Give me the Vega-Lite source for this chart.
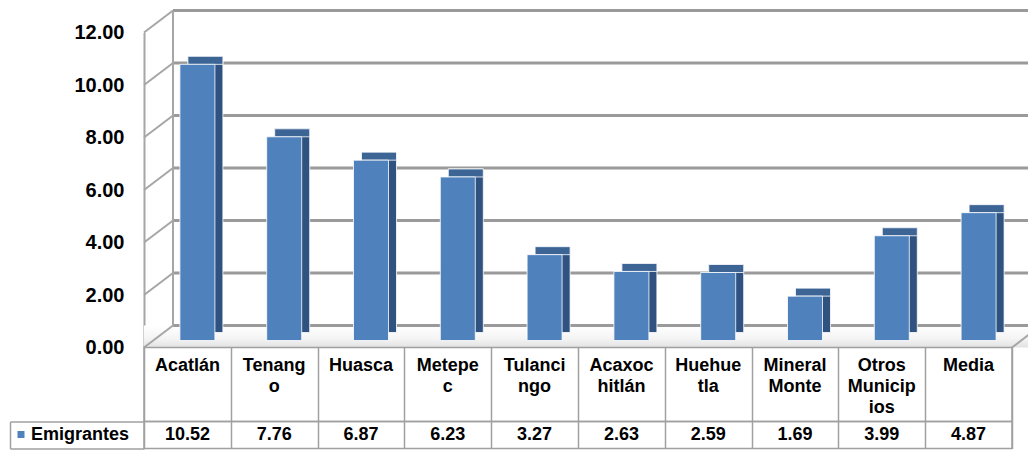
{
  "$schema": "https://vega.github.io/schema/vega-lite/v6.json",
  "padding": {"left": 8, "top": 8.5, "right": 0, "bottom": 0},
  "bounds": "flush",
  "spacing": 0,
  "config": {
    "font": "Liberation Sans",
    "view": {"stroke": null},
    "axis": {"labelFont": "Liberation Sans"},
    "legend": {"labelFont": "Liberation Sans"}
  },
  "datasets": {
    "d": [
      {"cat": "Acatlán", "label": "Acatlán", "v": 10.52, "serie": "Emigrantes"},
      {"cat": "Tenango", "label": "Tenang\no", "v": 7.76, "serie": "Emigrantes"},
      {"cat": "Huasca", "label": "Huasca", "v": 6.87, "serie": "Emigrantes"},
      {"cat": "Metepec", "label": "Metepe\nc", "v": 6.23, "serie": "Emigrantes"},
      {"cat": "Tulancingo", "label": "Tulanci\nngo", "v": 3.27, "serie": "Emigrantes"},
      {"cat": "Acaxochitlán", "label": "Acaxoc\nhitlán", "v": 2.63, "serie": "Emigrantes"},
      {"cat": "Huehuetla", "label": "Huehue\ntla", "v": 2.59, "serie": "Emigrantes"},
      {"cat": "Mineral Monte", "label": "Mineral\nMonte", "v": 1.69, "serie": "Emigrantes"},
      {"cat": "Otros Municipios", "label": "Otros\nMunicip\nios", "v": 3.99, "serie": "Emigrantes"},
      {"cat": "Media", "label": "Media", "v": 4.87, "serie": "Emigrantes"}
    ],
    "levels": [{"lv": 0}, {"lv": 2}, {"lv": 4}, {"lv": 6}, {"lv": 8}, {"lv": 10}, {"lv": 12}],
    "floorlv": [{"lv": 0}]
  },
  "vconcat": [
    {
      "width": 868,
      "height": 315,
      "resolve": {"scale": {"x": "independent"}},
      "layer": [
        {
          "data": {"name": "floorlv"},
          "mark": {
            "type": "rect",
            "y2Offset": -22,
            "x2Offset": 18,
            "color": {"gradient": "linear", "x1": 0, "y1": 0, "x2": 0, "y2": 1,
              "stops": [{"offset": 0, "color": "#FFFFFF"}, {"offset": 0.6, "color": "#F4F4F4"}, {"offset": 1, "color": "#E2E2E2"}]}
          },
          "encoding": {
            "x": {"datum": 0, "type": "quantitative", "scale": {"domain": [0, 1]}, "axis": null},
            "x2": {"datum": 1},
            "y": {"field": "lv", "type": "quantitative", "title": null,
              "scale": {"domain": [0, 12]},
              "axis": {"values": [0, 2, 4, 6, 8, 10, 12], "format": ".2f", "labelFontSize": 20,
                "labelFontWeight": "bold", "labelColor": "#000000", "labelPadding": 20,
                "ticks": false, "grid": false, "domainColor": "#A6A6A6", "domainWidth": 2, "title": null}},
            "y2": {"field": "lv"}
          }
        },
        {
          "data": {"name": "levels"},
          "mark": {"type": "rule", "xOffset": 29, "x2Offset": 18, "yOffset": -22, "y2Offset": -22, "color": "#9A9A9A", "strokeWidth": 3},
          "encoding": {
            "x": {"datum": 0, "type": "quantitative", "scale": {"domain": [0, 1]}, "axis": null},
            "x2": {"datum": 1},
            "y": {"field": "lv", "type": "quantitative", "title": null},
            "y2": {"field": "lv"}
          }
        },
        {
          "data": {"name": "levels"},
          "mark": {"type": "rule", "x2Offset": 29, "y2Offset": -22, "color": "#A6A6A6", "strokeWidth": 2},
          "encoding": {
            "x": {"datum": 0, "type": "quantitative", "scale": {"domain": [0, 1]}, "axis": null},
            "x2": {"datum": 0},
            "y": {"field": "lv", "type": "quantitative", "title": null},
            "y2": {"field": "lv"}
          }
        },
        {
          "data": {"name": "floorlv"},
          "mark": {"type": "rule", "x2Offset": 29, "y2Offset": -22, "color": "#A6A6A6", "strokeWidth": 2},
          "encoding": {
            "x": {"datum": 1, "type": "quantitative", "scale": {"domain": [0, 1]}, "axis": null},
            "x2": {"datum": 1},
            "y": {"field": "lv", "type": "quantitative", "title": null},
            "y2": {"field": "lv"}
          }
        },
        {
          "data": {"name": "floorlv"},
          "mark": {"type": "rule", "xOffset": 29, "x2Offset": 29, "yOffset": -22, "y2Offset": -22, "color": "#A6A6A6", "strokeWidth": 2},
          "encoding": {
            "x": {"datum": 0, "type": "quantitative", "scale": {"domain": [0, 1]}, "axis": null},
            "x2": {"datum": 0},
            "y": {"datum": 0, "type": "quantitative", "title": null},
            "y2": {"datum": 12}
          }
        },
        {
          "data": {"name": "d"},
          "mark": {"type": "bar", "width": 35, "xOffset": 18, "yOffset": -15, "y2Offset": -15, "color": "#2F5280", "stroke": "#FFFFFF", "strokeWidth": 0.8},
          "encoding": {
            "x": {"field": "cat", "type": "nominal", "scale": {"domain": ["Acatlán", "Tenango", "Huasca", "Metepec", "Tulancingo", "Acaxochitlán", "Huehuetla", "Mineral Monte", "Otros Municipios", "Media"], "paddingInner": 0, "paddingOuter": 0}, "axis": null},
            "y": {"field": "v", "type": "quantitative", "title": null},
            "y2": {"datum": 0}
          }
        },
        {
          "data": {"name": "d"},
          "mark": {"type": "bar", "width": 35, "xOffset": 18, "yOffset": -15, "y2Offset": -7, "color": "#3C6596", "stroke": "#FFFFFF", "strokeWidth": 0.8},
          "encoding": {
            "x": {"field": "cat", "type": "nominal", "scale": {"domain": ["Acatlán", "Tenango", "Huasca", "Metepec", "Tulancingo", "Acaxochitlán", "Huehuetla", "Mineral Monte", "Otros Municipios", "Media"], "paddingInner": 0, "paddingOuter": 0}, "axis": null},
            "y": {"field": "v", "type": "quantitative", "title": null},
            "y2": {"field": "v"}
          }
        },
        {
          "data": {"name": "d"},
          "mark": {"type": "bar", "width": 35, "xOffset": 10, "yOffset": -7, "y2Offset": -7, "stroke": "#FFFFFF", "strokeWidth": 0.8},
          "encoding": {
            "x": {"field": "cat", "type": "nominal", "scale": {"domain": ["Acatlán", "Tenango", "Huasca", "Metepec", "Tulancingo", "Acaxochitlán", "Huehuetla", "Mineral Monte", "Otros Municipios", "Media"], "paddingInner": 0, "paddingOuter": 0}, "axis": null},
            "y": {"field": "v", "type": "quantitative", "title": null},
            "y2": {"datum": 0},
            "color": {"field": "serie", "type": "nominal", "scale": {"range": ["#4F81BD"]},
              "legend": {"orient": "none", "legendX": -132, "legendY": 393, "title": null,
                "symbolType": "square", "symbolSize": 49, "symbolStrokeWidth": 0,
                "labelFontSize": 18, "labelFontWeight": "bold", "labelColor": "#000000",
                "padding": 0, "labelOffset": 1}}
          }
        }
      ]
    },
    {
      "width": 868,
      "height": 74,
      "data": {"name": "d"},
      "view": {"stroke": "#A0A0A0", "strokeWidth": 1.5},
      "mark": {"type": "text", "baseline": "top", "dy": 9, "fontSize": 18, "fontWeight": "bold", "lineHeight": 21, "lineBreak": "\n", "color": "#000000"},
      "encoding": {
        "x": {"field": "cat", "type": "nominal", "scale": {"domain": ["Acatlán", "Tenango", "Huasca", "Metepec", "Tulancingo", "Acaxochitlán", "Huehuetla", "Mineral Monte", "Otros Municipios", "Media"], "paddingInner": 0, "paddingOuter": 0},
          "axis": {"grid": true, "tickBand": "extent", "labels": false, "ticks": false, "domain": false, "title": null, "gridColor": "#A0A0A0", "gridWidth": 1.5}},
        "y": {"datum": 1, "type": "quantitative", "scale": {"domain": [0, 1]}, "axis": null},
        "text": {"field": "label", "type": "nominal"}
      }
    },
    {
      "width": 868,
      "height": 27,
      "data": {"name": "d"},
      "view": {"stroke": "#A0A0A0", "strokeWidth": 1.5},
      "mark": {"type": "text", "baseline": "middle", "fontSize": 18, "fontWeight": "bold", "color": "#000000"},
      "encoding": {
        "x": {"field": "cat", "type": "nominal", "scale": {"domain": ["Acatlán", "Tenango", "Huasca", "Metepec", "Tulancingo", "Acaxochitlán", "Huehuetla", "Mineral Monte", "Otros Municipios", "Media"], "paddingInner": 0, "paddingOuter": 0},
          "axis": {"grid": true, "tickBand": "extent", "labels": false, "ticks": false, "domain": false, "title": null, "gridColor": "#A0A0A0", "gridWidth": 1.5}},
        "y": {"datum": 0.5, "type": "quantitative", "scale": {"domain": [0, 1]},
          "axis": {"values": [0, 1], "offset": 134, "tickSize": -134, "labels": false, "grid": false,
            "domainColor": "#A0A0A0", "domainWidth": 1.5, "tickColor": "#A0A0A0", "tickWidth": 1.5, "title": null}},
        "text": {"field": "v", "type": "quantitative", "format": ".2f"}
      }
    }
  ]
}
